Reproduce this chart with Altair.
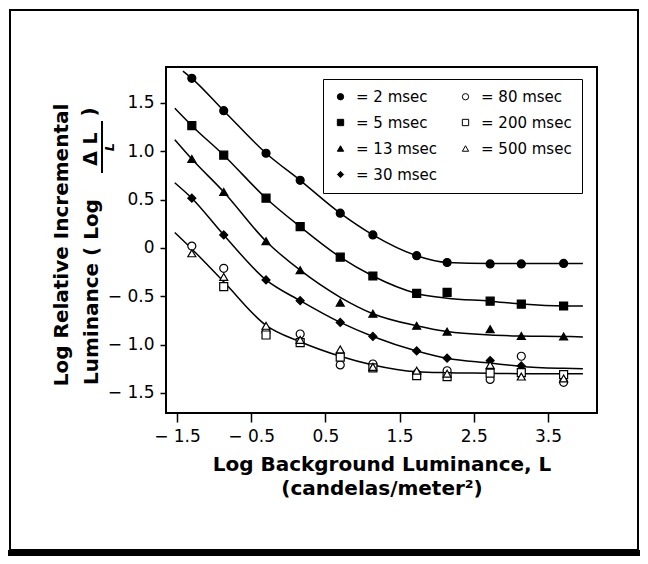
import altair as alt
import pandas as pd

# ---- axis ticks ----
x_ticks = [-1.5, -0.5, 0.5, 1.5, 2.5, 3.5]
y_ticks = [1.5, 1.0, 0.5, 0.0, -0.5, -1.0, -1.5]

# ---- legend (durations in msec) ----
legend_order = ["2", "5", "13", "30", "80", "200", "500"]
legend_shapes = ["circle", "square", "triangle-up", "diamond", "circle", "square", "triangle-up"]
legend_fills = ["black", "black", "black", "black", "white", "white", "white"]
legend_strokes = ["black", "black", "black", "black", "black", "black", "black"]

# ---- measured points (x = log background luminance) ----
x_pts = [-1.3, -0.87, -0.3, 0.16, 0.7, 1.14, 1.73, 2.14, 2.72, 3.14, 3.71]
y_2 = [1.755, 1.42, 0.98, 0.70, 0.36, 0.135, -0.08, -0.15, -0.165, -0.165, -0.16]
y_5 = [1.265, 0.96, 0.515, 0.22, -0.095, -0.29, -0.47, -0.46, -0.55, -0.58, -0.60]
y_13 = [0.92, 0.58, 0.07, -0.23, -0.565, -0.68, -0.805, -0.865, -0.84, -0.91, -0.915]
y_30 = [0.515, 0.135, -0.33, -0.545, -0.77, -0.915, -1.065, -1.14, -1.165, -1.22, None]
y_80 = [0.02, -0.21, -0.87, -0.89, -1.21, -1.20, -1.30, -1.27, -1.36, -1.12, -1.39]
y_200 = [None, -0.40, -0.90, -0.98, -1.13, -1.24, -1.32, -1.33, -1.295, -1.29, -1.31]
y_500 = [-0.055, -0.30, -0.805, -0.95, -1.05, -1.23, -1.27, -1.30, -1.21, -1.33, -1.35]

# ---- fitted curves ----
curve_x_2 = [-1.42, -1.3, -0.87, -0.3, 0.16, 0.7, 1.14, 1.73, 2.14, 2.72, 3.14, 3.71, 3.97]
curve_y_2 = [1.83, 1.755, 1.42, 0.98, 0.70, 0.36, 0.135, -0.08, -0.15, -0.16, -0.16, -0.16, -0.16]
curve_x = [-1.53, -1.3, -0.87, -0.3, 0.16, 0.7, 1.14, 1.73, 2.14, 2.72, 3.14, 3.71, 3.97]
curve_y_5 = [1.445, 1.265, 0.96, 0.515, 0.22, -0.095, -0.29, -0.47, -0.52, -0.55, -0.58, -0.60, -0.60]
curve_y_13 = [1.12, 0.92, 0.58, 0.07, -0.23, -0.51, -0.68, -0.805, -0.865, -0.90, -0.91, -0.915, -0.92]
curve_y_30 = [0.675, 0.515, 0.135, -0.33, -0.545, -0.77, -0.915, -1.065, -1.14, -1.19, -1.225, -1.245, -1.25]
curve_y_long = [0.16, -0.01, -0.35, -0.80, -0.97, -1.12, -1.21, -1.28, -1.29, -1.295, -1.30, -1.30, -1.30]

# ---- build tables ----
rows = []
for dur, ys in [("2", y_2), ("5", y_5), ("13", y_13), ("30", y_30),
                ("80", y_80), ("200", y_200), ("500", y_500)]:
    for xv, yv in zip(x_pts, ys):
        if yv is not None:
            rows.append({"x": xv, "y": yv, "dur": dur})
df_pts = pd.DataFrame(rows)

lrows = []
for name, xs, ys in [("c2", curve_x_2, curve_y_2), ("c5", curve_x, curve_y_5),
                     ("c13", curve_x, curve_y_13), ("c30", curve_x, curve_y_30),
                     ("clong", curve_x, curve_y_long)]:
    for i, (xv, yv) in enumerate(zip(xs, ys)):
        lrows.append({"x": xv, "y": yv, "curve": name, "i": i})
df_lines = pd.DataFrame(lrows)

FONT = "DejaVu Sans"
lab_expr = ("datum.value == 0 ? '0' : (datum.value < 0 ? '\u2212 ' + format(-datum.value, '.1f')"
            " : format(datum.value, '.1f'))")

x_enc = alt.X("x:Q",
              scale=alt.Scale(domain=[-1.648, 4.16], nice=False, zero=False),
              axis=alt.Axis(values=x_ticks, labelExpr=lab_expr,
                            title=["Log Background Luminance, L", "(candelas/meter\u00b2)"],
                            tickSize=9, labelPadding=6, titlePadding=10,
                            titleLineHeight=24))
y_enc = alt.Y("y:Q",
              scale=alt.Scale(domain=[-1.707, 1.872], nice=False, zero=False),
              axis=alt.Axis(values=y_ticks, labelExpr=lab_expr, title="",
                            tickSize=6, labelPadding=6))

lines = alt.Chart(df_lines).mark_line(
    color="black", strokeWidth=1.5, interpolate="monotone"
).encode(x=x_enc, y=y_enc, detail="curve:N", order="i:Q")

leg = alt.Legend(orient="none", legendX=157, legendY=12, columns=2, title=None,
                 labelExpr="'= ' + datum.label + ' msec'",
                 labelFont=FONT, labelFontSize=15, labelColor="black",
                 symbolSize=40, symbolStrokeWidth=1,
                 strokeColor="black", padding=10, rowPadding=10,
                 columnPadding=20, labelOffset=8)

points = alt.Chart(df_pts).mark_point(
    filled=True, opacity=1, strokeWidth=1.2, size=64
).encode(
    x=x_enc, y=y_enc,
    shape=alt.Shape("dur:N", scale=alt.Scale(domain=legend_order, range=legend_shapes), legend=leg),
    fill=alt.Fill("dur:N", scale=alt.Scale(domain=legend_order, range=legend_fills), legend=leg),
    stroke=alt.Stroke("dur:N", scale=alt.Scale(domain=legend_order, range=legend_strokes), legend=leg),
)


def vtext(s, x, y, size, align="center", style="normal"):
    return alt.Chart(pd.DataFrame({"t": [s]})).mark_text(
        angle=270, align=align, baseline="middle", font=FONT, fontSize=size,
        fontWeight="bold", fontStyle=style, color="black"
    ).encode(x=alt.value(x), y=alt.value(y), text="t:N")


ytitle1 = vtext("Log Relative Incremental", -104, 178, 20)
ytitle2 = vtext("Luminance ( Log", -74, 318, 20, align="left")
num = vtext("\u0394 L", -75, 82, 19)
den = vtext("L", -56, 80, 13, style="italic")
close = vtext(")", -76, 45, 20)
frac_bar = alt.Chart(pd.DataFrame({"a": [0]})).mark_rule(
    color="black", strokeWidth=2
).encode(x=alt.value(-64), y=alt.value(54), y2=alt.value(106))

frame = alt.Chart(pd.DataFrame({"a": [0]})).mark_rect(
    fillOpacity=0, stroke="black", strokeWidth=2
).encode(x=alt.value(-156), x2=alt.value(472), y=alt.value(-57), y2=alt.value(483))
bar = alt.Chart(pd.DataFrame({"a": [0]})).mark_rect(color="black").encode(
    x=alt.value(-158), x2=alt.value(474), y=alt.value(483), y2=alt.value(492))

chart = alt.layer(
    frame, bar, lines, points, ytitle1, ytitle2, num, den, close, frac_bar
).properties(
    width=431, height=346,
    autosize=alt.AutoSizeParams(type="none"),
    padding={"left": 158, "top": 59, "right": 43, "bottom": 143},
).configure_view(
    stroke="black", strokeWidth=2
).configure_axis(
    domain=False, grid=False, tickColor="black", tickWidth=1.5,
    labelColor="black", labelFont=FONT, labelFontSize=17,
    titleColor="black", titleFont=FONT, titleFontSize=20, titleFontWeight="bold",
)

chart.save("out.html", embed_options={"renderer": "svg", "actions": False})
